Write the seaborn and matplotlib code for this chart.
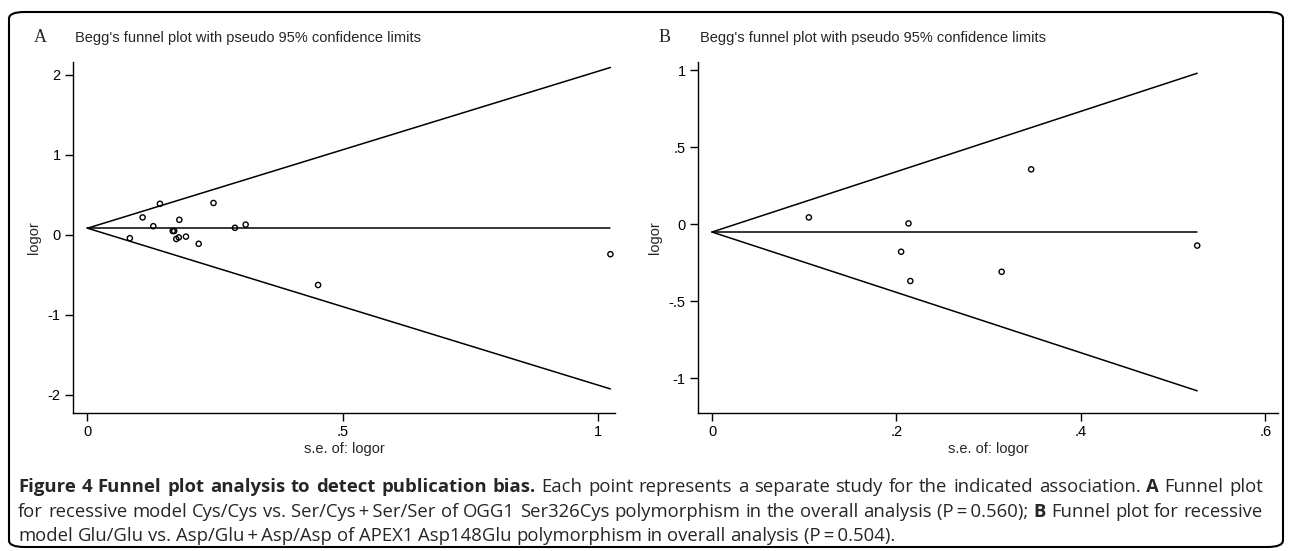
import numpy as np
import pandas as pd
import matplotlib
matplotlib.use("Agg")
import matplotlib.pyplot as plt
import seaborn as sns
from matplotlib.patches import FancyBboxPatch
from matplotlib.transforms import IdentityTransform

# ---------------- data ----------------
# Panel A: OGG1 Ser326Cys, recessive model
a_se = [0.083, 0.108, 0.129, 0.142, 0.167, 0.170, 0.174, 0.179, 0.180,
        0.193, 0.218, 0.247, 0.289, 0.310, 0.452, 1.025]
a_logor = [-0.04, 0.22, 0.11, 0.39, 0.05, 0.05, -0.05, -0.03, 0.19,
           -0.02, -0.11, 0.40, 0.09, 0.13, -0.625, -0.24]
a_pooled = 0.085
a_xticks = [0, 0.5, 1]
a_xticklabels = ["0", ".5", "1"]
a_yticks = [-2, -1, 0, 1, 2]
a_yticklabels = ["-2", "-1", "0", "1", "2"]

# Panel B: APEX1 Asp148Glu, recessive model
b_se = [0.105, 0.205, 0.213, 0.215, 0.314, 0.346, 0.526]
b_logor = [0.043, -0.18, 0.004, -0.37, -0.31, 0.355, -0.14]
b_pooled = -0.052
b_xticks = [0, 0.2, 0.4, 0.6]
b_xticklabels = ["0", ".2", ".4", ".6"]
b_yticks = [-1, -0.5, 0, 0.5, 1]
b_yticklabels = ["-1", "-.5", "0", ".5", "1"]

title_text = "Begg's funnel plot with pseudo 95% confidence limits"
xlabel_text = "s.e. of: logor"
ylabel_text = "logor"

caption_lines = [
    [("Figure 4 Funnel plot analysis to detect publication bias.", "bold"),
     ("Each point represents a separate study for the indicated association.", "normal"),
     ("A", "bold"), ("Funnel plot", "normal")],
    [("for recessive model Cys/Cys vs. Ser/Cys\u2009+\u2009Ser/Ser of OGG1 Ser326Cys polymorphism in the overall analysis (P\u2009=\u20090.560);", "normal"),
     ("B", "bold"), ("Funnel plot for recessive", "normal")],
    [("model Glu/Glu vs. Asp/Glu\u2009+\u2009Asp/Asp of APEX1 Asp148Glu polymorphism in overall analysis (P\u2009=\u20090.504).", "normal")],
]

# ---------------- style ----------------
sns.set_style("ticks")
plt.rcParams["font.family"] = ["Liberation Sans", "DejaVu Sans"]
plt.rcParams["axes.linewidth"] = 1.0
plt.rcParams["xtick.major.size"] = 5.8
plt.rcParams["ytick.major.size"] = 5.8
plt.rcParams["xtick.major.width"] = 1.0
plt.rcParams["ytick.major.width"] = 1.0
plt.rcParams["xtick.color"] = "black"
plt.rcParams["ytick.color"] = "black"
plt.rcParams["axes.edgecolor"] = "black"

W, H = 1290, 551
fig = plt.figure(figsize=(W / 100, H / 100), dpi=100)


def ax_rect(left, right, top, bottom):
    return [left / W, 1 - bottom / H, (right - left) / W, (bottom - top) / H]


def funnel(ax, se, logor, pooled, xlim, ylim, xticks, xtl, yticks, ytl):
    se_max = max(se)
    line_df = pd.DataFrame({
        "se": [0, se_max] * 3,
        "y": [pooled, pooled + 1.96 * se_max,
              pooled, pooled - 1.96 * se_max,
              pooled, pooled],
        "grp": ["u", "u", "l", "l", "m", "m"],
    })
    sns.lineplot(data=line_df, x="se", y="y", units="grp", estimator=None,
                 color="black", linewidth=1.1, ax=ax, legend=False)
    pts = pd.DataFrame({"se": se, "logor": logor})
    sns.scatterplot(data=pts, x="se", y="logor", ax=ax, marker="o",
                    facecolors="none", edgecolor="black", linewidth=1.0,
                    s=14, legend=False, zorder=3)
    ax.set_xlim(*xlim)
    ax.set_ylim(*ylim)
    ax.set_xticks(xticks)
    ax.set_xticklabels(xtl, fontsize=10.5)
    ax.set_yticks(yticks)
    ax.set_yticklabels(ytl, fontsize=10.5)
    ax.tick_params(axis="both", direction="out", pad=3)
    ax.set_xlabel(xlabel_text, fontsize=10.5, labelpad=2)
    ax.set_ylabel(ylabel_text, fontsize=10.5, labelpad=5)
    sns.despine(ax=ax)


axA = fig.add_axes(ax_rect(73, 615, 62, 413))
funnel(axA, a_se, a_logor, a_pooled, (-0.0284, 1.034), (-2.225, 2.1625),
       a_xticks, a_xticklabels, a_yticks, a_yticklabels)
axB = fig.add_axes(ax_rect(698, 1278, 62, 413))
funnel(axB, b_se, b_logor, b_pooled, (-0.0152, 0.6136), (-1.227, 1.052),
       b_xticks, b_xticklabels, b_yticks, b_yticklabels)

# panel letters and titles
tr = IdentityTransform()
fig.text(34, H - 38, "A", transform=tr, fontsize=13,
         family=["Liberation Serif", "DejaVu Serif"], va="center", ha="left")
fig.text(75, H - 38, title_text, transform=tr, fontsize=10.5, va="center", ha="left")
fig.text(659, H - 38, "B", transform=tr, fontsize=13,
         family=["Liberation Serif", "DejaVu Serif"], va="center", ha="left")
fig.text(700, H - 38, title_text, transform=tr, fontsize=10.5, va="center", ha="left")

# border
border = FancyBboxPatch((9 / W, 4 / H), (1283 - 9) / W, (539 - 4) / H,
                        boxstyle="round,pad=0,rounding_size=0.012",
                        transform=fig.transFigure, fill=False,
                        edgecolor="black", linewidth=1.5)
fig.patches.append(border)

# caption
fig.canvas.draw()
renderer = fig.canvas.get_renderer()
cap_family = ["Open Sans", "DejaVu Sans"]
cap_size = 13.3


def measure(s, weight):
    t = fig.text(0, 0, s, transform=tr, fontsize=cap_size, fontweight=weight,
                 family=cap_family)
    w = t.get_window_extent(renderer).width
    t.remove()
    return w


space_w = measure("x x", "normal") - measure("xx", "normal")
x0, x1 = 18, 1263
ys = [487, 512, 536]
for i, runs in enumerate(caption_lines):
    words = []
    for text, weight in runs:
        for wd in text.split(" "):
            words.append((wd, weight))
    widths = [measure(wd, wt) for wd, wt in words]
    if i < 2:
        gap = max((x1 - x0 - sum(widths)) / (len(words) - 1), space_w * 0.6)
    else:
        gap = space_w
    x = x0
    for (wd, wt), w in zip(words, widths):
        fig.text(x, H - ys[i], wd, transform=tr, fontsize=cap_size,
                 fontweight=wt, family=cap_family, va="center", ha="left")
        x += w + gap

fig.savefig("out.png", dpi=100)
